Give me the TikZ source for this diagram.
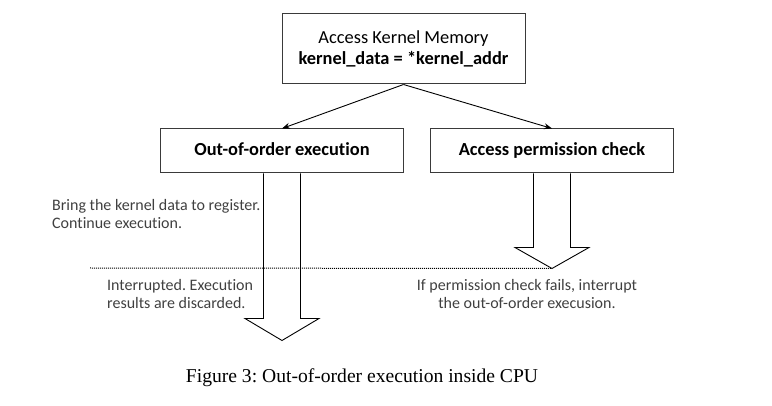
\documentclass[tikz,border=0pt]{standalone}
\usepackage{fontspec}
\setmainfont{Carlito}[Ligatures=NoCommon]
\newfontfamily\capfont{Liberation Serif}
\usepackage{tikz}
\usetikzlibrary{
arrows.meta,
positioning
}
\definecolor{boxline}{HTML}{3A3A3A}
\definecolor{desctext}{HTML}{404040}
\frenchspacing

\begin{document}
\begin{tikzpicture}[
x=1pt, y=-1pt,
node distance=44pt,
box/.style={
rectangle,
draw=boxline,
line width=1pt,
fill=white,
minimum width=243pt,
minimum height=44pt,
text height=12.5pt,
text depth=4pt,
align=center,
font=\fontsize{18.4}{21}\selectfont
},
desc/.style={
text=desctext,
inner sep=0pt,
font=\fontsize{16}{17.5}\selectfont
},
arrow/.style={-{Stealth[length=8pt,width=6pt]},line width=0.9pt},
hollow/.style={draw=black,line width=0.9pt}
]
\useasboundingbox (0,0) rectangle (772,406);

\node[box, minimum height=70pt, text height={}, text depth={}] (kernel) at (403.5,49)
{Access Kernel Memory\\\textbf{kernel\_data = *kernel\_addr}};

\node[box, below=of kernel, xshift=-121.5pt] (ooo)
{\textbf{Out-of-order execution}};

\node[box, below=of kernel, xshift=148.5pt] (check)
{\textbf{Access permission check}};

\draw[arrow] (kernel.south) -- (ooo.north);
\draw[arrow] (kernel.south) -- (check.north);

% big hollow arrows
\draw[hollow] ([xshift=-18.5pt]ooo.south) -- ++(0,145) -- ++(-18.5,0)
-- ++(37,22) -- ++(37,-22) -- ++(-18.5,0) -- ++(0,-145);
\draw[hollow] ([xshift=-18.5pt]check.south) -- ++(0,74) -- ++(-18.5,0)
-- ++(37,21) coordinate (stop) -- ++(37,-21) -- ++(-18.5,0) -- ++(0,-74);

\coordinate (cut) at (90,268);
\draw[densely dotted,line width=1pt] (cut) -- (stop);

\node[desc, anchor=west, align=left] (bring) at (52,214)
{Bring the kernel data to register.\\Continue execution.};
\node[desc, anchor=west, align=left] (discard) at (107,294)
{Interrupted. Execution\\results are discarded.};
\node[desc, align=center] (fails) at (527,294)
{If permission check fails, interrupt\\the out-of-order execusion.};

\node[font=\capfont\fontsize{19.6}{22}\selectfont] (caption) at (362,378)
{Figure 3: Out-of-order execution inside CPU};
\end{tikzpicture}
\end{document}
